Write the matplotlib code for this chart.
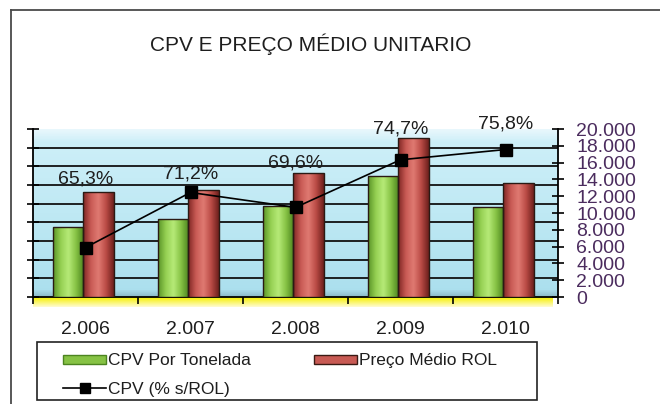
import matplotlib
matplotlib.use('Agg')
import matplotlib.pyplot as plt
import matplotlib.ticker as ticker
import numpy as np
from matplotlib.colors import LinearSegmentedColormap
from matplotlib.lines import Line2D
from matplotlib.patches import Patch, Rectangle

plt.rcParams['font.family'] = ['Liberation Sans', 'DejaVu Sans']

# ---------------------------------------------------------------------------
# Data
# ---------------------------------------------------------------------------
years       = ['2.006', '2.007', '2.008', '2.009', '2.010']
cpv_ton     = [8300, 9300, 10800, 14400, 10700]      # CPV Por Tonelada
preco_rol   = [12500, 12700, 14800, 18900, 13600]    # Preço Médio ROL
cpv_pct     = [65.3, 71.2, 69.6, 74.7, 75.8]         # CPV (% s/ROL)
pct_labels  = ['65,3%', '71,2%', '69,6%', '74,7%', '75,8%']

# layout / style
LABEL_Y     = [72.6, 73.2, 74.4, 78.0, 78.5]   # where the % labels sit (line-axis units)
BAR_W       = 0.29
GREEN_OFF   = -0.165
RED_OFF     = 0.125
GREEN_STOPS = ['#5a9428', '#95d052', '#b6ea78', '#86c244', '#4c8420']
RED_STOPS   = ['#7e2623', '#c85a54', '#e07a72', '#bb4c46', '#6e201d']
TICK_COLOR  = '#4b2c5e'
TEXT_COLOR  = '#1e1e1e'
W, H = 660, 404


def fmt_thousands(v, pos):
    return f'{int(v):,}'.replace(',', '.')


def gradient_bars(ax, xs, heights, stops):
    cmap = LinearSegmentedColormap.from_list('g', stops)
    grad = np.linspace(0, 1, 64).reshape(1, -1)
    rects = ax.bar(xs, heights, width=BAR_W, facecolor='none',
                   edgecolor='#2a1a14', lw=1.0, zorder=3)
    for r in rects:
        x0, w, h = r.get_x(), r.get_width(), r.get_height()
        im = ax.imshow(grad, cmap=cmap, extent=(x0, x0 + w, 0, h),
                       aspect='auto', zorder=2, interpolation='bicubic')
        im.set_clip_path(r)
    return rects


fig = plt.figure(figsize=(W / 100, H / 100), dpi=100)

# frame of the chart area
fig.add_artist(Line2D([11 / W, 11 / W], [0, 1 - 10 / H], color='#4a4a4a', lw=1.3))
fig.add_artist(Line2D([11 / W, 1], [1 - 10 / H, 1 - 10 / H], color='#4a4a4a', lw=1.3))

fig.text(311 / W, 1 - 44 / H, 'CPV E PREÇO MÉDIO UNITARIO',
         ha='center', va='center', fontsize=15, color=TEXT_COLOR)

pos = [33 / W, (H - 297) / H, 525 / W, 168 / H]
ax = fig.add_axes(pos)          # background wall, grid, left axis
ax_bar = ax.twinx()             # bars, right axis
ax_line = ax.twinx()            # line on top

x = np.arange(len(years))

# --- background wall + yellow floor edge
wall = LinearSegmentedColormap.from_list(
    'wall', [(0.0, '#8fbccb'), (0.04, '#ace0ee'), (0.5, '#bfe9f4'),
             (0.93, '#cdeff8'), (1.0, '#e8f7fc')])
ax.imshow(np.linspace(0, 1, 100).reshape(-1, 1), cmap=wall, origin='lower',
          extent=(0, 1, 0, 1), transform=ax.transAxes, aspect='auto', zorder=0)
floor = LinearSegmentedColormap.from_list('floor', ['#fffbd0', '#f6f000'])
ax.imshow(np.linspace(0, 1, 20).reshape(-1, 1), cmap=floor, origin='lower',
          extent=(0, 0.99, -10 / 168, 0), transform=ax.transAxes, aspect='auto',
          zorder=0, clip_on=False)

ax.set_xlim(-0.5, len(years) - 0.5)
ax.set_ylim(60, 78)
ax.set_yticks(np.arange(60, 79, 2))
ax.yaxis.set_major_formatter(ticker.NullFormatter())
ax.tick_params(axis='y', direction='inout', length=8, width=1.2, color='black')
ax.set_axisbelow(True)
ax.grid(True, axis='y', color='#111111', lw=1.3)
ax.get_ygridlines()[-1].set_visible(False)
ax.get_ygridlines()[0].set_visible(False)

ax.set_xticks(x)
ax.set_xticklabels(years, fontsize=14, color=TEXT_COLOR)
ax.set_xticks(np.arange(-0.5, len(years), 1), minor=True)
ax.tick_params(axis='x', which='major', length=0, pad=17)
ax.tick_params(axis='x', which='minor', direction='out', length=5, width=1.2)
for s in ('top', 'right'):
    ax.spines[s].set_visible(False)
ax.spines['left'].set_linewidth(1.3)
ax.spines['bottom'].set_linewidth(1.3)

# --- bars
gradient_bars(ax_bar, x + GREEN_OFF, cpv_ton, GREEN_STOPS)
gradient_bars(ax_bar, x + RED_OFF, preco_rol, RED_STOPS)
ax_bar.set_xlim(-0.5, len(years) - 0.5)
ax_bar.set_ylim(0, 20000)
ax_bar.set_yticks(np.arange(0, 20001, 2000))
ax_bar.yaxis.set_major_formatter(ticker.FuncFormatter(fmt_thousands))
ax_bar.tick_params(axis='y', direction='inout', length=8, width=1.2, pad=9,
                   labelsize=14, labelcolor=TICK_COLOR)
for s in ('top', 'left', 'bottom'):
    ax_bar.spines[s].set_visible(False)
ax_bar.spines['right'].set_linewidth(1.3)

# --- line
ax_line.plot(x, cpv_pct, color='black', lw=1.2, marker='s', ms=8.5, zorder=5)
ax_line.set_xlim(-0.5, len(years) - 0.5)
ax_line.set_ylim(60, 78)
ax_line.set_yticks([])
for s in ax_line.spines.values():
    s.set_visible(False)
for xi, ly, lab in zip(x, LABEL_Y, pct_labels):
    ax_line.text(xi, ly, lab, ha='center', va='center', fontsize=14,
                 color=TEXT_COLOR, clip_on=False)

# --- legend (frame drawn separately so the entries can sit inset)
fig.add_artist(Rectangle((37 / W, (H - 400) / H), 500 / W, 58 / H,
                         transform=fig.transFigure, facecolor='white',
                         edgecolor='#222222', lw=1.2))
handles = [
    Patch(facecolor='#86c244', edgecolor='#4c8420', label='CPV Por Tonelada'),
    Line2D([], [], color='black', lw=1.2, marker='s', ms=7, label='CPV (% s/ROL)'),
    Patch(facecolor='#c85a54', edgecolor='#3a1a14', label='Preço Médio ROL'),
]
leg = fig.legend(handles=handles, ncol=2, loc='center left',
                 bbox_to_anchor=(63 / W, (H - 375) / H),
                 borderaxespad=0, borderpad=0, fontsize=12.5, frameon=False,
                 handlelength=2.5, handleheight=0.4, handletextpad=0.1,
                 labelspacing=0.75, columnspacing=3.6, labelcolor=TEXT_COLOR)

fig.savefig('out.png', dpi=100)
